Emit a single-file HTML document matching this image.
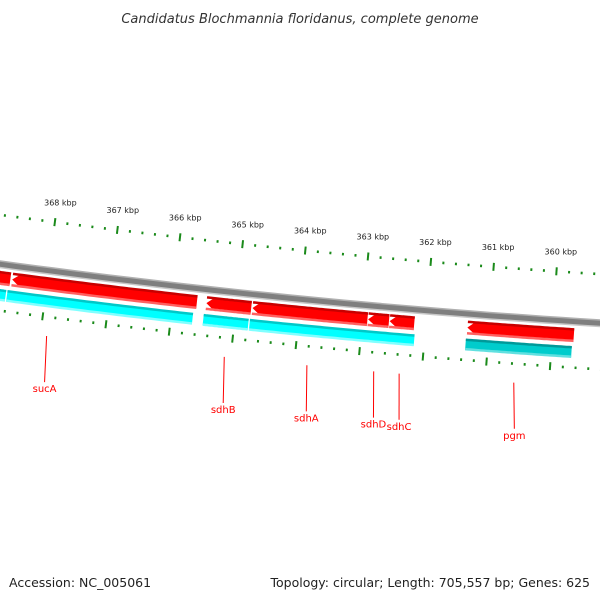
<!DOCTYPE html>
<html><head><meta charset="utf-8"><style>
html,body{margin:0;padding:0;background:#fff;}
svg{display:block;font-family:"DejaVu Sans","Liberation Sans",sans-serif;}
</style></head><body>
<svg id="map" width="600" height="600" viewBox="0 0 600 600" xmlns="http://www.w3.org/2000/svg">
<rect width="600" height="600" fill="#fff"/>
<text x="300" y="23" text-anchor="middle" font-size="13" font-style="italic" fill="#333">Candidatus Blochmannia floridanus, complete genome</text>
<text x="9" y="587" font-size="12.5" fill="#222">Accession: NC_005061</text>
<text x="590" y="587" text-anchor="end" font-size="12.5" fill="#222">Topology: circular; Length: 705,557 bp; Genes: 625</text>
<g id="plot"></g>
</svg>
<script>
const majorTicks = [368, 367, 366, 365, 364, 363, 362, 361, 360];
const geneNames = ["partial", "sucA", "sdhB", "sdhA", "sdhD", "sdhC", "pgm"];
const geneStarts = [369.6, 368.55, 365.47, 364.74, 362.91, 362.57, 361.34];
const geneEnds = [368.58, 365.62, 364.76, 362.92, 362.58, 362.18, 359.66];
const cdsStarts = [369.6, 368.6, 365.49, 364.76, 362.16, 361.35];
const cdsEnds = [368.62, 365.66, 364.78, 362.16, 362.16, 359.68];
const labelNames = ["sucA", "sdhB", "sdhA", "sdhD", "sdhC", "pgm"];
const labelPos = [367.9, 365.1, 363.8, 362.75, 362.35, 360.55];

const NS = "http://www.w3.org/2000/svg";
const plot = document.getElementById('plot');
const CX = 1111, CY = -7958, RB = 8296;
function ang(p){ return 0.1284 + 0.00764*(p-368); }
function pt(r,p){ const a=ang(p); return [CX - r*Math.sin(a), CY + r*Math.cos(a)]; }
function mk(tag, attrs){ const e=document.createElementNS(NS,tag); for(const k in attrs) e.setAttribute(k,attrs[k]); plot.appendChild(e); return e; }
function arcPts(r,p1,p2){ const pts=[]; const n=40; for(let i=0;i<=n;i++){ pts.push(pt(r,p1+(p2-p1)*i/n)); } return pts; }
function band(r1,r2,p1,p2,fill,arrow,name){
  let pts = arcPts(r1,p1,p2);
  let inner = arcPts(r2,p2,p1);
  let d = [];
  if(arrow){
    const tip = 8/63; const pa = p1 - tip;
    pts = arcPts(r1,pa,p2); inner = arcPts(r2,p2,pa);
    const mid = pt((r1+r2)/2, p1);
    d = pts.concat(inner, [mid]);
  } else d = pts.concat(inner);
  const e = mk('polygon',{points:d.map(q=>q[0].toFixed(1)+','+q[1].toFixed(1)).join(' '),fill:fill});
  
  
  return e;
}
// backbone
[[8294,8300,'#7f7f7f'],[8293,8294.5,'#b0b0b0'],[8299.5,8301,'#c8c8c8']].forEach((b,i)=>{
  const pts = arcPts(b[0],370.5,359.0).concat(arcPts(b[1],359.0,370.5));
  const e = mk('polygon',{points:pts.map(q=>q[0].toFixed(1)+','+q[1].toFixed(1)).join(' '),fill:b[2]});
  
  
});
// genes (red, arrow to left)
for(let i=0;i<geneNames.length;i++){
  const s=geneStarts[i], e=geneEnds[i];
  const arrow = i>0;
  band(8304,8317,s,e,'#ff0000',arrow,'gene-'+geneNames[i]);
  const t = band(8303.5,8306,s,e,'#c80000',false,'gene-'+geneNames[i]+'-top');
  const b = band(8315,8317.5,s,e,'#ff6060',false,'gene-'+geneNames[i]+'-bottom');
}
// cds (cyan)
for(let i=0;i<cdsStarts.length;i++){
  const dark = i===cdsStarts.length-1;
  band(8322,8333,cdsStarts[i],cdsEnds[i],dark?'#00cccc':'#00ffff',false,'cds-'+i);
  band(8321.5,8324,cdsStarts[i],cdsEnds[i],dark?'#009999':'#00c8c8',false,'cds-'+i+'-top');
  band(8331,8333.5,cdsStarts[i],cdsEnds[i],dark?'#60e0e0':'#80ffff',false,'cds-'+i+'-bottom');
}
// ticks
for(let p=369.6; p>=358.9; p-=0.2){
  const pr = Math.round(p*10)/10;
  const major = Math.abs(pr-Math.round(pr))<0.01;
  [[8248],[8343]].forEach((rr,j)=>{
    const len = major?4:1.3;
    const a=pt(rr[0]-len,pr), b=pt(rr[0]+len,pr);
    const e = mk('line',{x1:a[0],y1:a[1],x2:b[0],y2:b[1],stroke:'#1a8a1a','stroke-width':2});
    
    
  });
}
majorTicks.forEach(k=>{
  const q = pt(8228,k);
  const e = mk('text',{x:q[0]+3,y:q[1]+3,'text-anchor':'middle','font-size':8,fill:'#222'});
  e.textContent = k+' kbp';
  
  
});
// gene labels
labelNames.forEach((n,i)=>{
  const a = pt(8362,labelPos[i]), b = pt(8408,labelPos[i]-0.06);
  const l = mk('line',{x1:a[0],y1:a[1],x2:b[0],y2:b[1],stroke:'#ff0000','stroke-width':1});
  
  
  const t = mk('text',{x:b[0],y:b[1]+10,'text-anchor':'middle','font-size':10,fill:'#ff0000'});
  t.textContent = n;
  
  
});
</script>
</body></html>
